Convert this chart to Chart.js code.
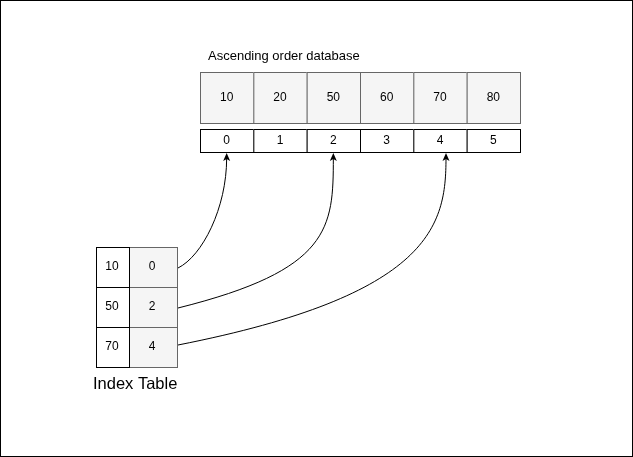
<!DOCTYPE html>
<html>
<head>
<meta charset="utf-8">
<script src="https://cdn.jsdelivr.net/npm/chart.js@4/dist/chart.umd.min.js"></script>
<style>
  html, body { margin: 0; padding: 0; background: #fff; }
  canvas { display: block; }
</style>
</head>
<body>
<canvas id="c" width="633" height="457"></canvas>
<script>
// index-table diagram: sorted database row, its positions, and a sparse index pointing into it
const dbValues = [10, 20, 50, 60, 70, 80];
const dbIndex = [0, 1, 2, 3, 4, 5];
const tableKeys = [10, 50, 70];
const tablePointers = [0, 2, 4];
const dbTitle = 'Ascending order database';
const tableTitle = 'Index Table';

const FONT = "'Liberation Sans', Arial, sans-serif";

const diagram = {
  id: 'diagram',
  afterDatasetsDraw(chart) {
    const { ctx } = chart;
    const X = v => chart.scales.x.getPixelForValue(v);
    const Y = v => chart.scales.y.getPixelForValue(v);
    const rect = (x0, y0, x1, y1, fill, stroke) => {
      ctx.fillStyle = fill; ctx.strokeStyle = stroke; ctx.lineWidth = 1;
      ctx.fillRect(X(x0), Y(y0), X(x1) - X(x0), Y(y1) - Y(y0));
      ctx.strokeRect(X(x0) + 0.5, Y(y0) + 0.5, X(x1) - X(x0), Y(y1) - Y(y0));
    };
    const text = (s, x, y, size, align) => {
      ctx.fillStyle = '#000'; ctx.font = size + 'px ' + FONT;
      ctx.textAlign = align || 'center'; ctx.textBaseline = 'middle';
      ctx.fillText(String(s), X(x), Y(y));
    };
    ctx.save();
    // outer frame
    ctx.strokeStyle = '#000'; ctx.strokeRect(0.5, 0.5, chart.width - 1, chart.height - 1);

    const cw = 320 / dbValues.length;
    dbValues.forEach((v, i) => {
      rect(200 + i * cw, 72, 200 + (i + 1) * cw, 123, '#f5f5f5', '#666');
      text(v, 200 + (i + 0.5) * cw, 98, 12);
    });
    dbIndex.forEach((v, i) => {
      rect(200 + i * cw, 129, 200 + (i + 1) * cw, 152, '#fff', '#000');
      text(v, 200 + (i + 0.5) * cw, 141, 12);
    });
    text(dbTitle, 208, 56, 13, 'left');

    tableKeys.forEach((k, i) => {
      const y0 = 247 + i * 40;
      rect(129, y0, 177, y0 + 40, '#f5f5f5', '#666');
      rect(96, y0, 129, y0 + 40, '#fff', '#000');
      text(k, 112, y0 + 20, 12);
      text(tablePointers[i], 152, y0 + 20, 12);
    });
    text(tableTitle, 93, 384, 16.5, 'left');

    // arrows from each pointer to its position cell
    const bends = [[0, 12, 60], [150, 38, 80], [240, 50, 120]];
    const shift = [0, 0, 6];
    tablePointers.forEach((p, i) => {
      const sx = 178, sy = 268 + i * 40 - (i === 2 ? 3 : 0);
      const tx = 200 + (p + 0.5) * cw + shift[i], ty = 158;
      const b = bends[i];
      ctx.strokeStyle = '#000'; ctx.lineWidth = 1;
      ctx.beginPath();
      ctx.moveTo(X(sx), Y(sy));
      ctx.bezierCurveTo(X(sx + b[0] + (tx - sx - b[0]) * 0.5), Y(sy - b[1]),
                        X(tx), Y(sy - b[2]), X(tx), Y(ty));
      ctx.stroke();
      ctx.fillStyle = '#000';
      ctx.beginPath();
      ctx.moveTo(X(tx), Y(153));
      ctx.lineTo(X(tx) - 3.5, Y(161));
      ctx.lineTo(X(tx), Y(159));
      ctx.lineTo(X(tx) + 3.5, Y(161));
      ctx.closePath(); ctx.fill();
    });
    ctx.restore();
  }
};

new Chart(document.getElementById('c'), {
  type: 'scatter',
  data: { datasets: [{ data: [] }] },
  options: {
    responsive: false, animation: false,
    layout: { padding: 0 },
    plugins: { legend: { display: false }, tooltip: { enabled: false } },
    scales: {
      x: { type: 'linear', min: 0, max: 633, display: false },
      y: { type: 'linear', min: 0, max: 457, reverse: true, display: false }
    }
  },
  plugins: [diagram]
});
</script>
</body>
</html>
